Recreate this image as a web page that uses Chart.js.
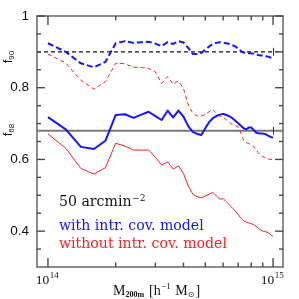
<!DOCTYPE html>
<html><head><meta charset="utf-8">
<script src="https://cdn.jsdelivr.net/npm/chart.js@4/dist/chart.umd.min.js"></script>
<style>html,body{margin:0;padding:0;background:#fff}#wrap{width:299px;height:299px}</style>
</head><body><div id="wrap"><canvas id="c" width="299" height="299"></canvas></div>
<script>
// Mass in units of 1e14 h^-1 Msun
const mass = [1.0,1.2,1.4,1.6,1.8,2.0,2.2,2.4,2.6,2.8,3.0,3.2,3.4,3.6,3.8,4.0,4.2,4.4,4.6,4.8,5.0,5.2,5.4,5.6,5.8,6.0,6.2,6.4,6.6,6.8,7.0,7.2,7.4,7.6,7.8,8.0,8.2,8.4,8.6,8.8,9.0,9.2,9.4,9.6,9.8,10.0];
const f68With = [0.718,0.684,0.635,0.629,0.652,0.724,0.726,0.716,0.725,0.733,0.721,0.710,0.736,0.717,0.736,0.719,0.693,0.677,0.671,0.668,0.687,0.704,0.715,0.721,0.725,0.727,0.724,0.720,0.715,0.708,0.701,0.694,0.687,0.684,0.689,0.689,0.682,0.675,0.673,0.672,0.672,0.671,0.668,0.665,0.662,0.661];
const f68Without = [0.671,0.631,0.575,0.559,0.577,0.645,0.637,0.626,0.626,0.626,0.606,0.584,0.593,0.573,0.582,0.561,0.526,0.503,0.496,0.493,0.498,0.503,0.508,0.498,0.489,0.491,0.482,0.473,0.464,0.456,0.446,0.436,0.429,0.425,0.423,0.421,0.418,0.414,0.408,0.403,0.400,0.399,0.397,0.394,0.389,0.386];
const f90With = [0.924,0.900,0.868,0.857,0.872,0.924,0.930,0.925,0.927,0.928,0.923,0.916,0.927,0.922,0.930,0.926,0.911,0.894,0.894,0.897,0.906,0.915,0.922,0.925,0.927,0.926,0.924,0.922,0.919,0.915,0.909,0.902,0.898,0.896,0.896,0.896,0.895,0.893,0.891,0.890,0.890,0.889,0.887,0.886,0.883,0.882];
const f90Without = [0.894,0.869,0.821,0.796,0.817,0.868,0.867,0.857,0.856,0.854,0.844,0.812,0.831,0.810,0.819,0.798,0.752,0.729,0.721,0.721,0.726,0.733,0.739,0.729,0.721,0.718,0.711,0.703,0.697,0.694,0.692,0.673,0.654,0.647,0.644,0.641,0.636,0.627,0.619,0.612,0.608,0.605,0.602,0.601,0.600,0.598];
const refLevels = [0.9, 0.68];
const xRange = [0.894, 11.07];
const yRange = [0.3, 1.0];
const yMajorTicks = [0.4, 0.6, 0.8, 1.0];
const yMajorLabels = ['0.4', '0.6', '0.8', '1'];
const yMinorTicks = [0.35,0.45,0.5,0.55,0.65,0.7,0.75,0.85,0.9,0.95];
const xMajorTicks = [1, 10];
const xMajorExps = ['14', '15'];
const xMinorTicks = [2,3,4,5,6,7,8,9];

const BLUE = '#1414ff', RED = '#ff1e1e';
const pts = arr => arr.map((v,i)=>({x:mass[i], y:v}));
const refLine = v => [{x:xRange[0],y:v},{x:xRange[1],y:v}];

const deco = {
  id:'deco',
  afterDatasetsDraw(chart){
    const ctx = chart.ctx, a = chart.chartArea, xs = chart.scales.x, ys = chart.scales.y;
    ctx.save();
    ctx.strokeStyle = '#333'; ctx.lineWidth = 1;
    refLevels.forEach(v=>{ const X = Math.round(xs.getPixelForValue(10))+0.5, Y = ys.getPixelForValue(v);
      ctx.beginPath(); ctx.moveTo(X, Y-4); ctx.lineTo(X, Y+4); ctx.stroke(); });
    ctx.strokeStyle = '#6e6e6e'; ctx.lineWidth = 1.6;
    ctx.strokeRect(a.left, a.top, a.right-a.left, a.bottom-a.top);
    ctx.lineWidth = 1.4; ctx.strokeStyle = '#4a4a4a';
    const tick = (x1,y1,x2,y2)=>{ctx.beginPath();ctx.moveTo(x1,y1);ctx.lineTo(x2,y2);ctx.stroke();};
    yMajorTicks.forEach(v=>{const Y=ys.getPixelForValue(v); tick(a.left,Y,a.left+8,Y); tick(a.right,Y,a.right-8,Y);});
    yMinorTicks.forEach(v=>{const Y=ys.getPixelForValue(v); tick(a.left,Y,a.left+4,Y); tick(a.right,Y,a.right-4,Y);});
    xMajorTicks.forEach(v=>{const X=xs.getPixelForValue(v); tick(X,a.bottom,X,a.bottom-9); tick(X,a.top,X,a.top+9);});
    xMinorTicks.forEach(v=>{const X=xs.getPixelForValue(v); tick(X,a.bottom,X,a.bottom-4.5); tick(X,a.top,X,a.top+4.5);});
    ctx.fillStyle = '#111'; ctx.font = "13.5px 'Liberation Sans', Arial, sans-serif";
    ctx.textAlign = 'right'; ctx.textBaseline = 'middle';
    yMajorTicks.forEach((v,i)=>{ ctx.fillText(yMajorLabels[i], 29, ys.getPixelForValue(v)); });
    ctx.textBaseline = 'alphabetic'; ctx.textAlign = 'left';
    xMajorTicks.forEach((v,i)=>{
      const X = xs.getPixelForValue(v);
      ctx.font = "13.5px 'Liberation Serif', serif"; const w1 = ctx.measureText('10').width;
      ctx.font = "9px 'Liberation Serif', serif"; const w2 = ctx.measureText(xMajorExps[i]).width;
      const x0 = X - (w1+w2)/2 - 1;
      ctx.font = "13.5px 'Liberation Serif', serif"; ctx.fillText('10', x0, 284);
      ctx.font = "9px 'Liberation Serif', serif"; ctx.fillText(xMajorExps[i], x0+w1+0.5, 278);
    });
    let x = 113;
    const big = "14px 'Liberation Serif', serif";
    ctx.font = big; ctx.fillText('M', x, 295); x += ctx.measureText('M').width;
    ctx.font = "bold 8px 'Liberation Serif', serif"; ctx.fillText('200m', x, 297); x += ctx.measureText('200m').width + 5;
    ctx.font = big; ctx.fillText('[h', x, 295); x += ctx.measureText('[h').width;
    ctx.font = "9px 'Liberation Serif', serif"; ctx.fillText('\u22121', x+0.5, 289); x += ctx.measureText('\u22121').width + 5;
    ctx.font = big; ctx.fillText('M', x, 295); x += ctx.measureText('M').width;
    ctx.font = "8px 'DejaVu Sans', sans-serif"; ctx.fillText('\u2299', x, 297); x += ctx.measureText('\u2299').width + 1;
    ctx.font = big; ctx.fillText(']', x, 295);
    const rot = (txt, sub, cx, cy) => {
      ctx.save(); ctx.translate(cx, cy); ctx.rotate(-Math.PI/2);
      ctx.textAlign='left'; ctx.textBaseline='alphabetic';
      ctx.font = "13px 'Liberation Sans', sans-serif"; const w = ctx.measureText(txt).width;
      ctx.font = "8px 'Liberation Sans', sans-serif"; const w2 = ctx.measureText(sub).width;
      const s = -(w+w2)/2;
      ctx.font = "13px 'Liberation Sans', sans-serif"; ctx.fillText(txt, s, 0);
      ctx.font = "8px 'Liberation Sans', sans-serif"; ctx.fillText(sub, s+w, 2);
      ctx.restore();
    };
    rot('f','90', 12, 57); rot('f','68', 12, 130);
    const fit = (txt, target, size) => { ctx.font = size+"px 'DejaVu Serif', serif"; const w = ctx.measureText(txt).width; return size*target/w; };
    const s1 = fit('without intr. cov. model', 168, 12);
    ctx.font = s1.toFixed(2)+"px 'DejaVu Serif', serif";
    ctx.fillStyle = '#111'; ctx.fillText('50 arcmin', 59, 206);
    const wa = ctx.measureText('50 arcmin').width;
    ctx.font = (s1*0.65).toFixed(2)+"px 'DejaVu Serif', serif"; ctx.fillText('\u22122', 59+wa+0.5, 201);
    ctx.font = s1.toFixed(2)+"px 'DejaVu Serif', serif";
    ctx.fillStyle = BLUE; ctx.fillText('with intr. cov. model', 59, 230);
    ctx.fillStyle = RED; ctx.fillText('without intr. cov. model', 59, 248);
    ctx.restore();
  }
};

new Chart(document.getElementById('c'), {
  type:'line',
  data:{ datasets:[
    {data:refLine(refLevels[0]), borderColor:'#111', borderWidth:1.2, borderDash:[4,3], pointRadius:0, order:5},
    {data:refLine(refLevels[1]), borderColor:'#7a7a7a', borderWidth:2, pointRadius:0, order:5},
    {data:pts(f90Without), borderColor:RED, borderWidth:1, borderDash:[4,3], pointRadius:0, order:4},
    {data:pts(f68Without), borderColor:RED, borderWidth:1, pointRadius:0, order:3},
    {data:pts(f90With), borderColor:BLUE, borderWidth:2, borderDash:[6,3], pointRadius:0, order:2},
    {data:pts(f68With), borderColor:BLUE, borderWidth:2, pointRadius:0, order:1}
  ]},
  options:{
    responsive:false, animation:false, devicePixelRatio:1,
    layout:{padding:{left:37, right:16, top:16, bottom:32}},
    plugins:{legend:{display:false}, tooltip:{enabled:false}},
    elements:{line:{tension:0, borderCapStyle:'butt', borderJoinStyle:'round'}},
    scales:{
      x:{type:'logarithmic', min:xRange[0], max:xRange[1], display:false},
      y:{type:'linear', min:yRange[0], max:yRange[1], display:false}
    }
  },
  plugins:[deco]
});
</script></body></html>
